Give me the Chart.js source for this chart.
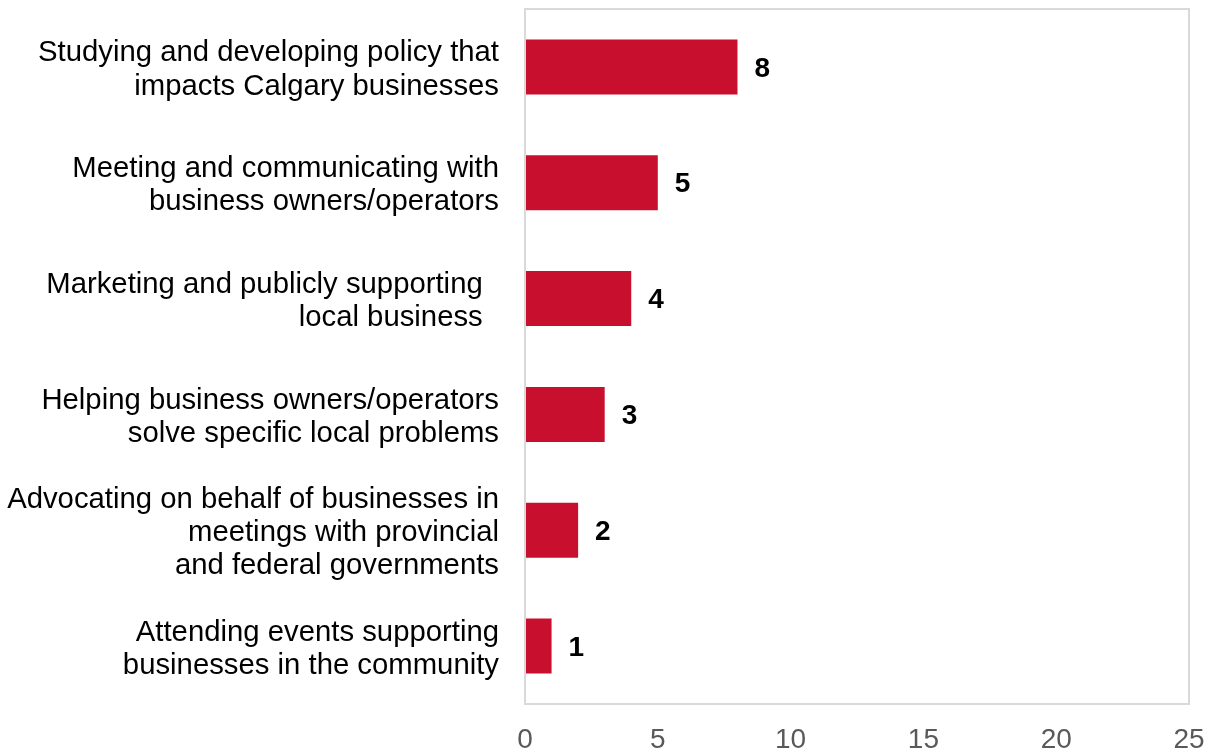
<!DOCTYPE html>
<html>
<head>
<meta charset="utf-8">
<script src="https://cdn.jsdelivr.net/npm/chart.js@4/dist/chart.umd.min.js"></script>
<style>
  html, body { margin: 0; padding: 0; background: #fff; }
  #wrap { width: 1212px; height: 753px; }
</style>
</head>
<body>
<div id="wrap"><canvas id="chart" width="1212" height="753"></canvas></div>
<script>
const categories = [
    ['Studying and developing policy that', 'impacts Calgary businesses'],
    ['Meeting and communicating with', 'business owners/operators'],
    ['Marketing and publicly supporting  ', 'local business  '],
    ['Helping business owners/operators', 'solve specific local problems'],
    ['Advocating on behalf of businesses in', 'meetings with provincial', 'and federal governments'],
    ['Attending events supporting', 'businesses in the community']
];
const counts = [8, 5, 4, 3, 2, 1];
const xTicks = [0, 5, 10, 15, 20, 25];

const FONT = '"Liberation Sans", Arial, sans-serif';

// box around the plot area
const boxPlugin = {
    id: 'box',
    afterDraw(chart) {
        const a = chart.chartArea, ctx = chart.ctx;
        ctx.save();
        ctx.strokeStyle = '#d9d9d9';
        ctx.lineWidth = 2;
        ctx.strokeRect(a.left, a.top, a.right - a.left, a.bottom - a.top);
        ctx.restore();
    }
};

// value labels after each bar
const valueLabels = {
    id: 'valueLabels',
    afterDatasetsDraw(chart) {
        const ctx = chart.ctx;
        const meta = chart.getDatasetMeta(0);
        ctx.save();
        ctx.font = 'bold 28px ' + FONT;
        ctx.fillStyle = '#000';
        ctx.textAlign = 'left';
        ctx.textBaseline = 'middle';
        meta.data.forEach((bar, i) => {
            ctx.fillText(String(counts[i]), bar.x + 17, bar.y + 2);
        });
        ctx.restore();
    }
};

new Chart(document.getElementById('chart'), {
    type: 'bar',
    data: {
        labels: categories,
        datasets: [{
            data: counts,
            backgroundColor: '#c8102e',
            barPercentage: 0.475,
            categoryPercentage: 1
        }]
    },
    options: {
        indexAxis: 'y',
        responsive: false,
        animation: false,
        layout: { padding: { top: 9, right: 23, left: 0, bottom: 0 } },
        plugins: {
            legend: { display: false },
            tooltip: { enabled: false }
        },
        scales: {
            x: {
                min: 0,
                max: 25,
                afterBuildTicks(scale) { scale.ticks = xTicks.map(v => ({ value: v })); },
                grid: { display: false, drawTicks: false },
                border: { display: false },
                ticks: {
                    padding: 19,
                    color: '#595959',
                    font: { family: FONT, size: 28 },
                    maxRotation: 0
                },
                afterFit(scale) {
                    scale.height = 49;
                    scale.paddingLeft = 0;
                    scale.paddingRight = 0;
                }
            },
            y: {
                grid: { display: false, drawTicks: false },
                border: { display: false },
                ticks: {
                    padding: 26,
                    labelOffset: 3,
                    color: '#000',
                    font: { family: FONT, size: 29.3, lineHeight: 1.13 }
                },
                afterFit(scale) {
                    scale.width = 525;
                    scale.paddingTop = 0;
                    scale.paddingBottom = 0;
                }
            }
        }
    },
    plugins: [boxPlugin, valueLabels]
});
</script>
</body>
</html>
